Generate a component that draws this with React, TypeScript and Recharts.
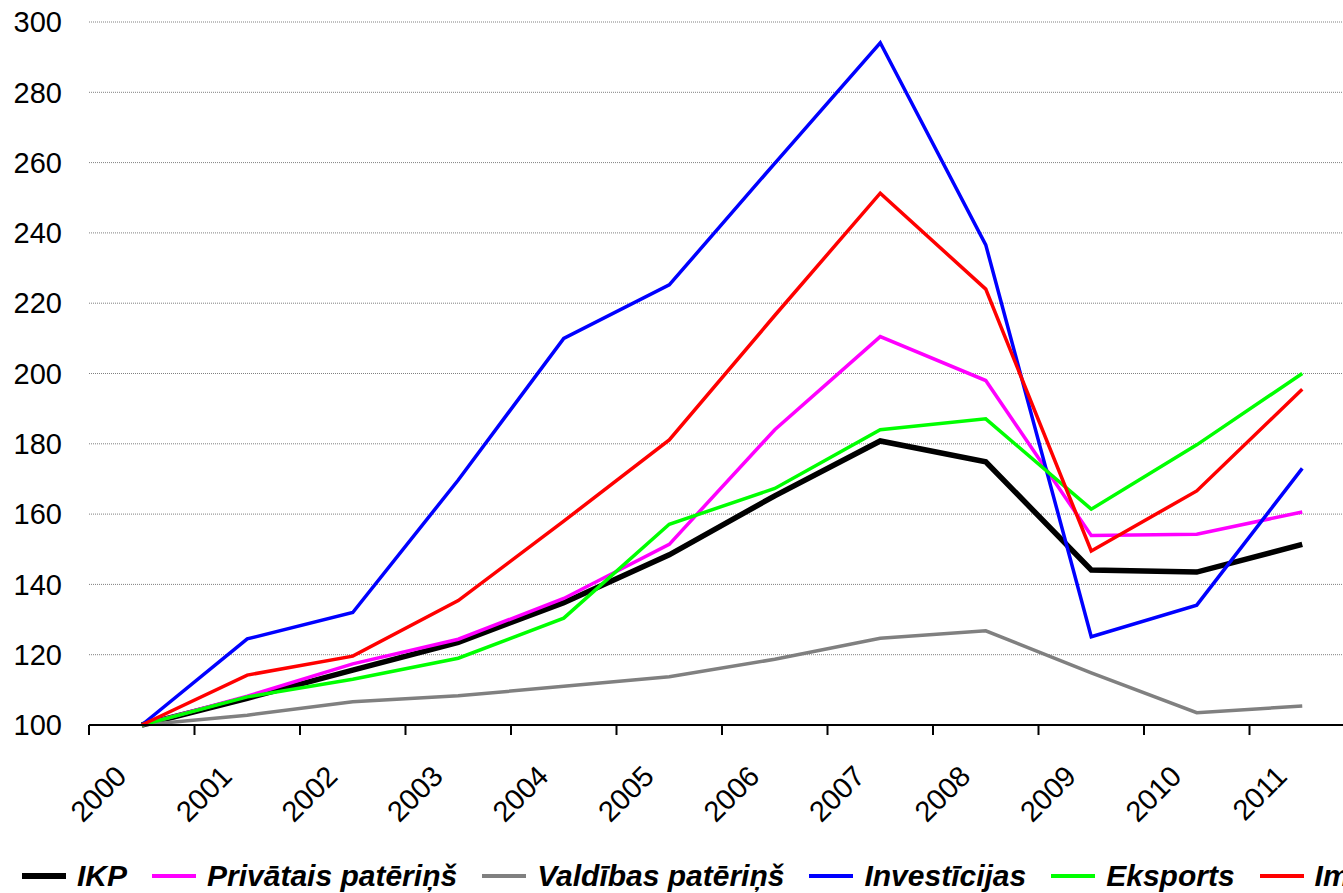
import { ComposedChart, Line, XAxis, YAxis, CartesianGrid } from "recharts";

const years = ["2000", "2001", "2002", "2003", "2004", "2005", "2006", "2007", "2008", "2009", "2010", "2011"];

const ikp = [100, 107.6, 115.6, 123.5, 134.8, 148.4, 165.2, 180.8, 174.9, 144.1, 143.5, 151.4];
const privatais = [100, 108.2, 117.4, 124.4, 136, 151.4, 184, 210.5, 198, 153.9, 154.3, 160.6];
const valdibas = [100, 102.8, 106.6, 108.3, 111, 113.7, 118.7, 124.7, 126.8, 114.8, 103.5, 105.4];
const investicijas = [100, 124.5, 132, 169.7, 210, 225.2, 259.8, 294.1, 236.6, 125.1, 134.1, 173];
const eksports = [100, 108, 113, 119, 130.4, 157.1, 167.3, 184, 187.1, 161.4, 179.7, 200];
const imports = [100, 114.2, 119.6, 135.4, 158, 181.1, 216.5, 251.3, 224, 149.5, 166.6, 195.5];

const yTicks = [100, 120, 140, 160, 180, 200, 220, 240, 260, 280, 300];

const series = [
  { key: "ikp", name: "IKP", color: "#000000", width: 5.5, values: ikp },
  { key: "privatais", name: "Privātais patēriņš", color: "#FF00FF", width: 3.5, values: privatais },
  { key: "valdibas", name: "Valdības patēriņš", color: "#808080", width: 3.5, values: valdibas },
  { key: "investicijas", name: "Investīcijas", color: "#0000FF", width: 3.5, values: investicijas },
  { key: "eksports", name: "Eksports", color: "#00FF00", width: 3.5, values: eksports },
  { key: "imports", name: "Imports", color: "#FF0000", width: 3.5, values: imports },
];

const data = years.map((year, i) => {
  const row: any = { year };
  series.forEach((s) => {
    row[s.key] = s.values[i];
  });
  return row;
});

const FONT = "'Liberation Sans', Arial, sans-serif";
const BAND = 1266 / years.length;

function YearTick(props: any) {
  const { x, y, payload } = props;
  const half = payload && payload.offset ? payload.offset : BAND / 2;
  const tx = x - 13.5;
  const ty = y + 53;
  return (
    <g>
      <line x1={x - half} y1={y} x2={x - half} y2={y + 10} stroke="#000" strokeWidth={2} />
      <text
        x={tx}
        y={ty}
        textAnchor="end"
        transform={`rotate(-45, ${tx}, ${ty})`}
        fontSize={29}
        fontFamily={FONT}
        fill="#000"
      >
        {payload.value}
      </text>
    </g>
  );
}

function ChartLegend() {
  return (
    <div
      style={{
        position: "absolute",
        left: 22,
        top: 858,
        width: 1700,
        display: "flex",
        alignItems: "center",
        whiteSpace: "nowrap",
        fontFamily: FONT,
        fontWeight: "bold",
        fontStyle: "italic",
        fontSize: 30,
        lineHeight: "36px",
      }}
    >
      {series.map((s) => (
        <div key={s.key} style={{ display: "flex", alignItems: "center", marginRight: 25 }}>
          <div style={{ width: 44, height: s.key === "ikp" ? 6 : 4, background: s.color, marginRight: 11 }} />
          <span>{s.name}</span>
        </div>
      ))}
    </div>
  );
}

export default function App() {
  return (
    <div
      style={{
        position: "absolute",
        left: 0,
        top: 0,
        width: 1343,
        height: 893,
        overflow: "hidden",
        background: "#fff",
      }}
    >
      <ComposedChart width={1360} height={893} data={data} margin={{ top: 22, right: 5, bottom: 0, left: 0 }}>
        <CartesianGrid vertical={false} stroke="#808080" strokeDasharray="1 1" />
        <XAxis
          dataKey="year"
          scale="band"
          height={168}
          axisLine={{ stroke: "#000", strokeWidth: 2 }}
          tickLine={false}
          tickSize={0}
          tickMargin={0}
          interval={0}
          tick={<YearTick />}
        />
        <YAxis
          domain={[100, 300]}
          ticks={yTicks}
          width={89}
          axisLine={false}
          tickLine={false}
          tickSize={0}
          tickMargin={27}
          tick={{ fontSize: 29, fill: "#000", fontFamily: FONT }}
        />
        {series.map((s) => (
          <Line
            key={s.key}
            type="linear"
            dataKey={s.key}
            name={s.name}
            stroke={s.color}
            strokeWidth={s.width}
            dot={false}
            activeDot={false}
            isAnimationActive={false}
          />
        ))}
      </ComposedChart>
      <ChartLegend />
    </div>
  );
}
